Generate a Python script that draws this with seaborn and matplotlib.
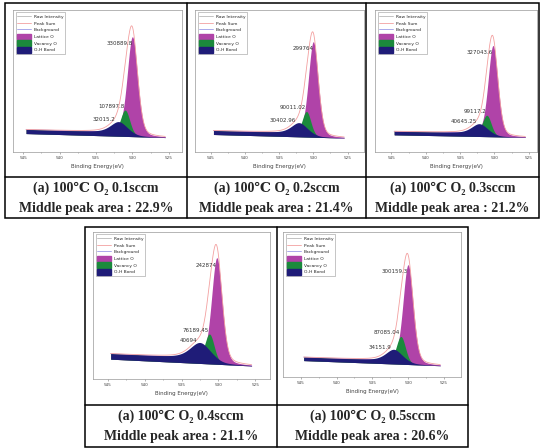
# XPS O 1s fits for five O2 flow rates, laid out like the report table
import numpy as np
import pandas as pd
import seaborn as sns
import matplotlib.pyplot as plt
from matplotlib.lines import Line2D
from matplotlib.patches import Patch, Rectangle

# values
flows = ["0.1", "0.2", "0.3", "0.4", "0.5"]
middle_area = ["22.9", "21.4", "21.2", "21.1", "20.6"]
lattice_label = ["330889.8", "299764", "327043.6", "242874", "300159.3"]
vacancy_label = ["107897.8", "90011.02", "99117.2", "76189.45", "87085.04"]
oh_label = ["32015.2", "30402.96", "40645.25", "40694", "34151.9"]

# fitted peak centres (eV), heights (counts) and widths (FWHM, eV)
lattice_pos = [530.0, 530.0, 530.2, 530.2, 530.0]
vacancy_pos = [531.0, 531.0, 531.1, 531.2, 531.0]
oh_pos = [531.9, 532.1, 532.2, 532.5, 532.0]
lattice_h = [320000, 290000, 314000, 232000, 288000]
vacancy_h = [76000, 70000, 66000, 58000, 74000]
oh_h = [36000, 33000, 34000, 36000, 34000]
lattice_w = [1.7, 1.7, 1.7, 1.7, 1.7]
vacancy_w = [1.45, 1.45, 1.45, 1.45, 1.45]
oh_w = [2.7, 2.7, 2.7, 3.2, 2.7]
base_left = [60000, 54000, 60000, 44000, 48000]
base_right = [47000, 43000, 51000, 29000, 33000]
shirley_step = [13000, 12000, 12000, 12000, 10000]
y_top = [462000, 438000, 496000, 326000, 424000]

# layout of the table, in pixels of the 544x448 image
W, H = 544, 448
axes_px = [(13, 10, 182, 152), (195, 10, 364, 152), (375, 10, 537, 152),
           (93, 232, 270, 379), (283, 232, 461, 377)]
x_lims = [(546.4, 523.2), (547.3, 522.6), (547.4, 523.8), (547.0, 523.0), (547.5, 522.6)]
cells = [(5, 187), (187, 366), (366, 539), (85, 277), (277, 468)]
caption_y = [(188, 208)] * 3 + [(416, 436)] * 2

c_lat, c_vac, c_oh = "#b043a8", "#1b8a3c", "#1f1c78"
c_sum, c_bg, c_raw = "#f3a0a0", "#9c9ce8", "#b8b8b8"

sns.set_theme(style="white")
plt.rcParams["font.family"] = ["DejaVu Sans"]
serif = ["Liberation Serif", "DejaVu Serif"]


def peak(x, c, h, w, eta=0.25):
    g = np.exp(-4 * np.log(2) * ((x - c) / w) ** 2)
    l = 1 / (1 + 4 * ((x - c) / w) ** 2)
    return h * ((1 - eta) * g + eta * l)


fig = plt.figure(figsize=(W / 100, H / 100), dpi=100)

for i in range(5):
    x0, y0, x1, y1 = axes_px[i]
    ax = fig.add_axes([x0 / W, 1 - y1 / H, (x1 - x0) / W, (y1 - y0) / H])

    x = np.linspace(525.5, 544.6, 800)
    lat = peak(x, lattice_pos[i], lattice_h[i], lattice_w[i])
    vac = peak(x, vacancy_pos[i], vacancy_h[i], vacancy_w[i], eta=0.1)
    oh = peak(x, oh_pos[i], oh_h[i], oh_w[i], eta=0.5)
    total = lat + vac + oh
    step = shirley_step[i] * np.cumsum(total) / total.sum()
    base = base_right[i] + (base_left[i] - base_right[i]) * (x - x.min()) / (x.max() - x.min())
    bg = base + step
    df = pd.DataFrame({"be": x, "bg": bg, "sum": bg + total})

    sns.lineplot(data=df, x="be", y="bg", ax=ax, color=c_bg, lw=0.6, zorder=1)
    ax.fill_between(x, base, bg + lat, color=c_lat, lw=0, zorder=2)
    ax.fill_between(x, base, bg + vac, color=c_vac, lw=0, zorder=2)
    ax.fill_between(x, base, bg + oh, color=c_oh, lw=0, zorder=2)
    sns.lineplot(data=df, x="be", y="sum", ax=ax, color=c_sum, lw=0.6, zorder=3)

    # peak value labels, next to the top of each component
    pad = 0.025 * y_top[i]
    ax.text(lattice_pos[i], (bg + lat).max() - 2 * pad, lattice_label[i],
            ha="right", va="center", fontsize=4, color="#333333", zorder=4)
    ax.text(vacancy_pos[i] + 0.1, (bg + vac).max() + pad, vacancy_label[i],
            ha="right", va="center", fontsize=4, color="#333333", zorder=4)
    ax.text(oh_pos[i] + 0.4, (bg + oh).max() + 0.6 * pad, oh_label[i],
            ha="right", va="center", fontsize=4, color="#333333", zorder=4)

    ax.set_xlim(*x_lims[i])
    ax.set_ylim(0, y_top[i])
    ax.set_xticks([545, 540, 535, 530, 525])
    ax.set_xticks([542.5, 537.5, 532.5, 527.5], minor=True)
    ax.set_yticks([])
    ax.tick_params(axis="x", which="both", direction="out", bottom=True,
                   length=1.6, width=0.4, color="#777777", labelsize=3,
                   labelcolor="#444444", pad=1.5)
    ax.tick_params(axis="x", which="minor", length=1.0)
    ax.set_xlabel("Binding Energy(eV)", fontsize=4, color="#444444", labelpad=2.5)
    ax.set_ylabel("")
    for s in ax.spines.values():
        s.set_color("#999999")
        s.set_linewidth(0.5)

    handles = [Line2D([], [], color=c_raw, lw=0.6), Line2D([], [], color=c_sum, lw=0.6),
               Line2D([], [], color=c_bg, lw=0.6), Patch(color=c_lat),
               Patch(color=c_vac), Patch(color=c_oh)]
    names = ["Raw Intensity", "Peak Sum", "Background", "Lattice O", "Vacancy O", "O-H Bond"]
    leg = ax.legend(handles, names, loc="upper left", bbox_to_anchor=(0.01, 0.99),
                    fontsize=3.2, fancybox=False, edgecolor="#999999", framealpha=1,
                    borderpad=0.35, handlelength=3.2, handleheight=1.6,
                    labelspacing=0.2, handletextpad=0.5, borderaxespad=0.2)
    leg.get_frame().set_linewidth(0.4)

    # captions under each graph
    cx = (cells[i][0] + cells[i][1]) / 2 / W
    ya, yb = caption_y[i]
    fig.text(cx, 1 - ya / H, "(a) 100℃ O₂ " + flows[i] + "sccm", ha="center", va="center",
             fontsize=10, weight="bold", family=serif)
    fig.text(cx, 1 - yb / H, "Middle peak area : " + middle_area[i] + "%", ha="center",
             va="center", fontsize=10, weight="bold", family=serif)


# table borders
def hline(xa, xb, y):
    fig.add_artist(Line2D([xa / W, xb / W], [1 - y / H, 1 - y / H], color="black", lw=1.1))


def vline(x, ya, yb):
    fig.add_artist(Line2D([x / W, x / W], [1 - ya / H, 1 - yb / H], color="black", lw=1.1))


for xa, xb, ya, yb, mids in [(5, 539, 3, 218, [187, 366]), (85, 468, 227, 447, [277])]:
    fig.add_artist(Rectangle((xa / W, 1 - yb / H), (xb - xa) / W, (yb - ya) / H,
                             fill=False, ec="black", lw=1.1))
    for m in mids:
        vline(m, ya, yb)
hline(5, 539, 177)
hline(85, 468, 405)

fig.savefig("out.png", dpi=100)
